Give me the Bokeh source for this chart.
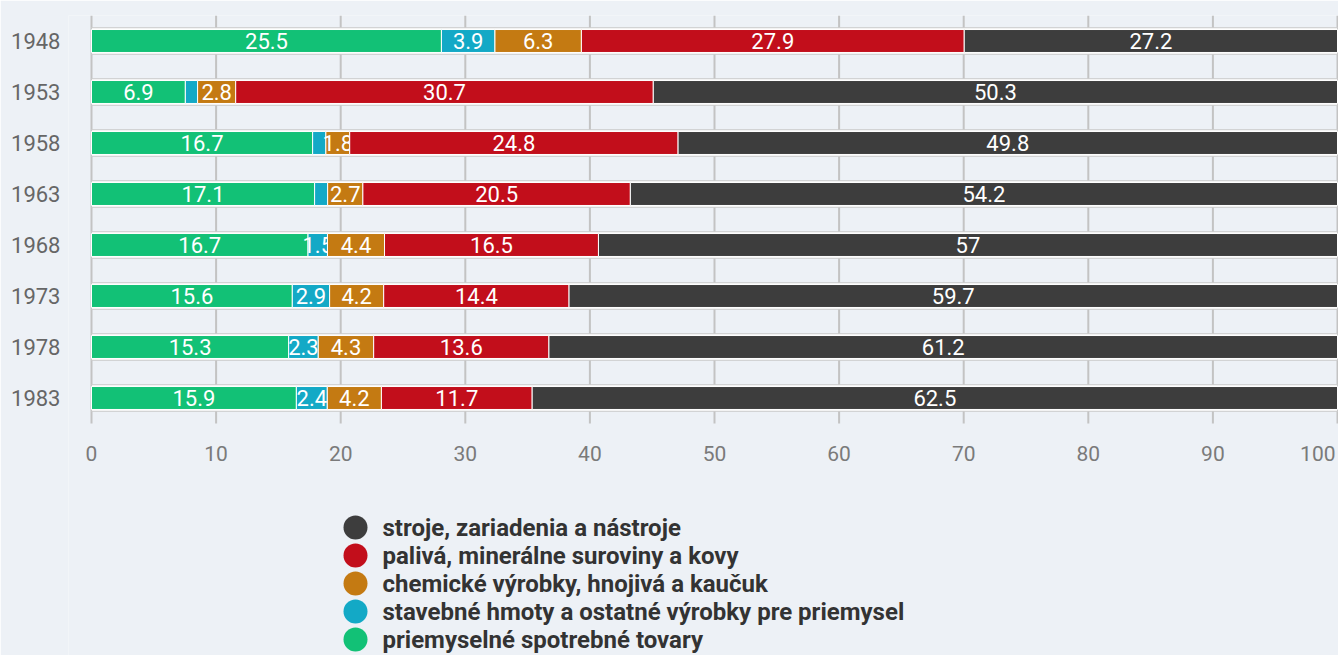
import numpy as np
from bokeh.plotting import figure
from bokeh.models import ColumnDataSource, Range1d, FixedTicker
from bokeh.core.properties import value
from bokeh.embed import file_html
from bokeh.resources import INLINE

years = [1948, 1953, 1958, 1963, 1968, 1973, 1978, 1983]

# stacking order, left to right
series_names = [
    "priemyselné spotrebné tovary",
    "stavebné hmoty a ostatné výrobky pre priemysel",
    "chemické výrobky, hnojivá a kaučuk",
    "palivá, minerálne suroviny a kovy",
    "stroje, zariadenia a nástroje",
]
spotrebne = [25.5, 6.9, 16.7, 17.1, 16.7, 15.6, 15.3, 15.9]
stavebne = [3.9, 0.9, 1.0, 1.0, 1.5, 2.9, 2.3, 2.4]
chemicke = [6.3, 2.8, 1.8, 2.7, 4.4, 4.2, 4.3, 4.2]
paliva = [27.9, 30.7, 24.8, 20.5, 16.5, 14.4, 13.6, 11.7]
stroje = [27.2, 50.3, 49.8, 54.2, 57.0, 59.7, 61.2, 62.5]
colors = ["#12c176", "#13a9c6", "#c47a12", "#c20e1b", "#3d3d3d"]

x_ticks = list(range(0, 101, 10))

BG = "#edf1f6"
FONT = "Roboto"

# ---------------- layout constants (pixels) ----------------
W, H = 1338, 655
X0_PX, X100_PX = 91, 1337       # where 0 and 100 sit
FRAME_L, FRAME_R = 68, 1338     # frame extent (a bit wider so edge labels are not clipped)
TOP = 15                        # frame top
BAND = 51                       # px per category band
n = len(years)
px_per_x = (X100_PX - X0_PX) / 100.0
y_top = n + 0.5
y_bottom = y_top - (H - TOP) / BAND

def y_at(px):                   # screen y (px) -> data y
    return y_top - (px - TOP) / BAND

def x_at(px):                   # screen x (px) -> data x
    return (px - X0_PX) / px_per_x

# ---------------- data transforms ----------------
series = [spotrebne, stavebne, chemicke, paliva, stroje]
vals = np.array(series, dtype=float)          # shape (5, 8)
totals = vals.sum(axis=0)
pct = vals / totals * 100.0
cum_right = np.cumsum(pct, axis=0)
cum_left = cum_right - pct
ypos = [n - i for i in range(n)]  # 1948 at top

p = figure(width=W, height=H,
           x_range=Range1d(x_at(FRAME_L), x_at(FRAME_R)),
           y_range=Range1d(y_bottom, y_top),
           output_backend="svg", toolbar_location=None,
           x_axis_location=None,
           min_border_left=FRAME_L, min_border_right=W - FRAME_R,
           min_border_top=TOP, min_border_bottom=0)
p.background_fill_color = BG
p.border_fill_color = BG
p.outline_line_color = None
p.xgrid.grid_line_color = None
p.ygrid.grid_line_color = None

# vertical grid lines over the bar area
p.segment(x0=x_ticks, x1=x_ticks, y0=0.5, y1=y_top,
          line_color="#c3c3c3", line_width=2)

# outline behind each bar
p.hbar(y=ypos, left=0, right=list(cum_right[-1]), height=0.52,
       fill_color="white", line_color="#c8c8c8", line_width=1)

for k in range(len(series)):
    src = ColumnDataSource(dict(
        y=ypos, left=list(cum_left[k]), right=list(cum_right[k]),
        mid=list((cum_left[k] + cum_right[k]) / 2),
        lab=[("%g" % v) if pc >= 1.3 else "" for v, pc in zip(series[k], pct[k])],
    ))
    p.hbar(y="y", left="left", right="right", height=0.45, source=src,
           fill_color=colors[k], line_color="white", line_width=1)
    p.text(x="mid", y="y", text="lab", source=src, text_color="white",
           text_font=value(FONT), text_font_size="22px",
           text_align="center", text_baseline="middle")

# x tick labels (last one right-aligned so it stays inside the page)
ty = y_at(453)
p.text(x=x_ticks[:-1], y=[ty] * (len(x_ticks) - 1), text=[str(t) for t in x_ticks[:-1]],
       text_color="#7a7a7a", text_font=value(FONT), text_font_size="21px",
       text_align="center", text_baseline="middle")
p.text(x=x_ticks[-1:], y=[ty], text=[str(x_ticks[-1])], x_offset=-2,
       text_color="#7a7a7a", text_font=value(FONT), text_font_size="21px",
       text_align="right", text_baseline="middle")

# y axis with the years
ya = p.yaxis[0]
ya.ticker = FixedTicker(ticks=ypos)
ya.major_label_overrides = {yv: str(yr) for yv, yr in zip(ypos, years)}
ya.axis_line_color = None
ya.major_tick_line_color = None
ya.minor_tick_line_color = None
ya.major_tick_out = 0
ya.major_label_standoff = 8
ya.major_label_text_font = FONT
ya.major_label_text_font_size = "22px"
ya.major_label_text_color = "#666666"

# legend (circle + label per series, last series first)
order = list(reversed(range(len(series))))
ly = [y_at(527 + 28 * i) for i in range(len(order))]
p.scatter(x=[x_at(355)] * len(order), y=ly, marker="circle", size=24,
          fill_color=[colors[k] for k in order], line_color=None)
p.text(x=[x_at(382)] * len(order), y=ly, text=[series_names[k] for k in order],
       text_color="#333333", text_font=value(FONT), text_font_size="24px",
       text_font_style="bold", text_align="left", text_baseline="middle")

open("out.html", "w").write(file_html(p, INLINE))
